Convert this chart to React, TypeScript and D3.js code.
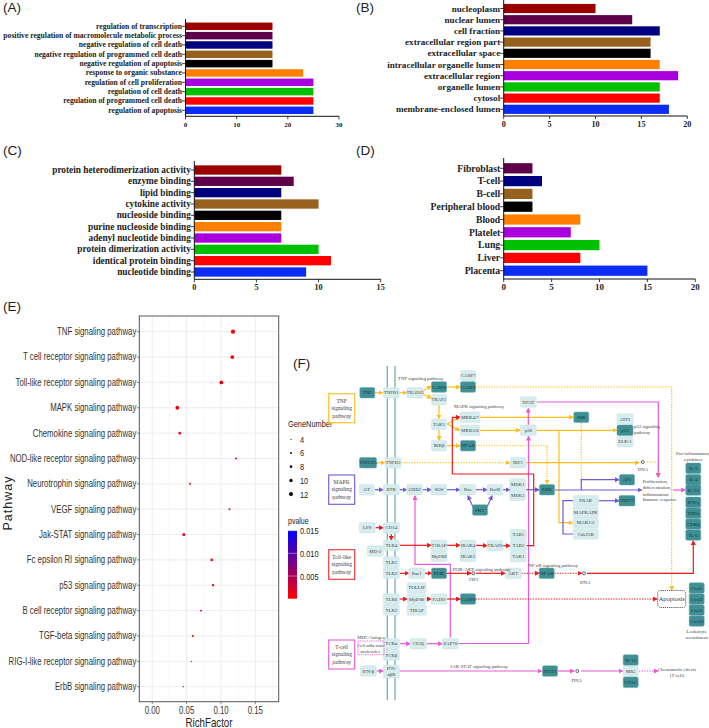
import React from "react";
import * as d3 from "d3";

// ---------- panel A-D data (top row first) ----------
const catA = ["regulation of transcription","positive regulation of macromolecule metabolic process","negative regulation of cell death","negative regulation of programmed cell death","negative regulation of apoptosis","response to organic substance","regulation of cell proliferation","regulation of cell death","regulation of programmed cell death","regulation of apoptosis"];
const valA = [17,17,17,17,17,23,25,25,25,25];
const catB = ["nucleoplasm","nuclear lumen","cell fraction","extracellular region part","extracellular space","intracellular organelle lumen","extracellular region","organelle lumen","cytosol","membrane-enclosed lumen"];
const valB = [10,14,17,16,16,17,19,17,17,18];
const catC = ["protein heterodimerization activity","enzyme binding","lipid binding","cytokine activity","nucleoside binding","purine nucleoside binding","adenyl nucleotide binding","protein dimerization activity","identical protein binding","nucleotide binding"];
const valC = [7,8,7,10,7,7,7,10,11,9];
const catD = ["Fibroblast","T-cell","B-cell","Peripheral blood","Blood","Platelet","Lung","Liver","Placenta"];
const valD = [3,4,3,3,8,7,10,8,15];
// colours counted from the bottom bar upward
const barColors = ["#0a2cf5","#ff0000","#00c000","#aa00dd","#ff8000","#000000","#96601e","#00007f","#5e0049","#9a0000"];

// ---------- panel E data ----------
const pathways = ["TNF signaling pathway","T cell receptor signaling pathway","Toll-like receptor signaling pathway","MAPK signaling pathway","Chemokine signaling pathway","NOD-like receptor signaling pathway","Neurotrophin signaling pathway","VEGF signaling pathway","Jak-STAT signaling pathway","Fc epsilon RI signaling pathway","p53 signaling pathway","B cell receptor signaling pathway","TGF-beta signaling pathway","RIG-I-like receptor signaling pathway","ErbB signaling pathway"];
const richFactor = [0.1175,0.1165,0.1005,0.0365,0.04,0.122,0.055,0.1125,0.046,0.0865,0.0885,0.071,0.059,0.057,0.045];
const geneNumber = [12,11,11,11,8,6,6,6,9,8,7,6,6,4,4];
const pValue = [0.0004,0.0004,0.0006,0.0008,0.001,0.001,0.001,0.001,0.001,0.001,0.001,0.001,0.001,0.009,0.014];
const geneLegend = [4,6,8,10,12];
const pLegend = [0.015,0.01,0.005];
const richTicks = [0,0.05,0.1,0.15];
const richMinor = [0.025,0.075,0.125,0.175];

// ---------- panel F diagram ----------
const YEL = "#ffbe1a", PUR = "#6a5cd6", RED = "#f01818", MAG = "#e85ad8", TEAL = "#6fb2b0";
// [label, centre x, centre y, width, dark?]
type N = [string, number, number, number, boolean?];
const nodes: N[] = [
  ["TNF",367.3,392.7,15,true],["TNFR1",391.3,392.7,16],["TRADD",415,392.7,16],["CASP8",439,387,15,true],["CASP7",468,375.7,15],["CASP3",468,387,15,true],["TRAF2",439,399.7,15],["TAK1",439,424.3,15],["IKKβ",439,445.7,15],["NF-κB",468,445.7,15,true],["MKK4/7",470,417.3,20],["MKK3/6",470,430.3,20],
  ["TNFLTA",368,462.7,17,true],["TNFR2",393,462.7,16],["GF",367,489.7,15],["RTK",391.3,489.7,16],["GRB2",414.7,489.7,16],["SOS",439,489.7,16],["Ras",467.7,489.7,16],["RafB",495,489.7,16],["PKC",480,510,15,true],["MEK1",517.7,484,16],["MEK2",517.7,495.3,16],["ERK",547,489.7,15,true],["AP1",627,479.7,15,true],
  ["NFAT",528.3,402,16],["JNK",581.3,417.3,15,true],["p38",528.3,430.3,16],["ATF2",625,419,16],["p53",625,430.3,16,true],["ELK-1",625,441.7,16],["IRF1",518,462.7,16],["PRAK",585.7,500.7,25],["MAPKAPK",585.7,512,25],["MAK1/2",585.7,522.7,25],["Cdc25B",585.7,534,25],["HSP27",627,500.7,16,true],
  ["IL-2",693.3,468.3,15,true],["IL-4",693.3,479.7,15,true],["IL-10",693.3,490,15,true],["IFN-γ",693.3,502.3,15,true],["TNFα",693.3,513,15,true],["CDK4",693.3,524,15,true],["IL-6",693.3,535,15,true],
  ["LPS",367.3,527.7,16],["CD14",391.3,527.7,16],["MD-2",375.3,551,16],["TLR4",391.3,545.3,16],["TLR1",391.3,562,16],["TLR2",391.3,573.3,16],["Rac1",416.7,573.3,16],["PI3K",439,573.3,15,true],["T1RAP",439,545.3,16],["MyD88",439,556.3,16],["IRAK4",468,545.3,16],["IRAK1",468,556.3,16],["TRAF6",495,545.7,16],["TAB1",518.3,534.7,16],["TAB2",518.3,545.7,16],["TAK1",518.3,556.7,16],
  ["TOLLIP",416.7,587.7,19],["MyD88",416.7,599,19],["TIRAP",416.7,610,19],["TLR6",391.3,599,16],["TLR2",391.3,610,16],["FADD",439,599,16],["CASP8",468,599,15,true],["AKT",513.3,573.3,16],["NF-κB",546.7,573.3,15,true],
  ["TCRα",391.3,643.7,16],["TCRβ",391.3,655,16],["CD3ζ",418.3,643.7,16],["ZAP70",450.3,643.7,16],["IFN-β",368.3,671,16],["STAT1",550,671,15,true],["IP-10",630.7,660,15,true],["MIG",630.7,671.3,15],["I-TAC",630.7,682.3,15,true],["Cxcl5",696.7,588,15,true],["Cxcl2",696.7,599,15,true],["Cxcl3",696.7,610,15,true],["Cxcl10",696.7,621,15,true],
];
// [colour, dotted?, arrow?, waypoints]
type E = [string, boolean, boolean, number[][]];
const edges: E[] = [
  [YEL,false,true,[[375,392.7],[382.5,392.7]]],[YEL,false,true,[[399.5,392.7],[406.5,392.7]]],[YEL,false,true,[[423,391],[431,386]]],[YEL,false,true,[[423,394],[431,398]]],[YEL,false,true,[[446.5,387],[460,387]]],[YEL,false,true,[[439,405],[439,418.5]]],[YEL,false,true,[[439,430],[439,440]]],[YEL,false,true,[[447,424],[459.5,417.3]]],[YEL,false,true,[[447,424],[459.5,430.3]]],[YEL,false,true,[[446.5,445.7],[460,445.7]]],[YEL,false,true,[[376.5,462.7],[384.5,462.7]]],
  [YEL,false,true,[[480,417.3],[573,417.3]]],[YEL,false,true,[[480,430.3],[520,430.3]]],[YEL,false,true,[[536,430.3],[616.5,430.3]]],[YEL,false,true,[[559,430.3],[559,522.7],[572.5,522.7]]],[YEL,false,true,[[526,462.7],[639,462.7]]],
  [YEL,true,true,[[475.5,387],[671.7,387],[671.7,590]]],[YEL,true,true,[[401,462.7],[509.5,462.7]]],[YEL,true,true,[[475.5,445.7],[547,445.7],[547,483.5]]],[YEL,true,false,[[581.3,423],[581.3,480]]],[YEL,true,true,[[646.5,462],[658,462],[658,477]]],
  [MAG,false,true,[[528.3,425],[528.3,408.5]]],[MAG,false,true,[[458,643.5],[528.5,643.5],[528.5,436.5]]],[MAG,false,true,[[536.5,402],[658.3,402],[658.3,477]]],[MAG,false,true,[[450.3,637.5],[450.3,564.3],[415,564.3],[415,496]]],[MAG,false,true,[[400,643.7],[410,643.7]]],[MAG,false,true,[[426.5,643.7],[442,643.7]]],[MAG,false,true,[[376.5,671],[383,671]]],[MAG,false,true,[[399.5,671],[541.5,671]]],[MAG,false,true,[[558,671],[574,671]]],[MAG,false,true,[[581,671],[622.5,671]]],[MAG,true,true,[[639,671],[658,671]]],[MAG,false,true,[[673,490],[685,490]]],
  [PUR,false,true,[[375,489.7],[383,489.7]]],[PUR,false,true,[[399.5,489.7],[406.5,489.7]]],[PUR,false,true,[[423,489.7],[431,489.7]]],[PUR,false,true,[[447,489.7],[459.5,489.7]]],[PUR,false,true,[[476,489.7],[487,489.7]]],[PUR,false,true,[[503,489.7],[509.5,489.7]]],[PUR,false,true,[[526,489.7],[539,489.7]]],[PUR,false,true,[[473,507],[468,496]]],[PUR,false,true,[[487,507],[492,496]]],[PUR,false,true,[[555,490],[641.5,490]]],[PUR,false,true,[[581.3,490],[581.3,479.7],[619,479.7]]],[PUR,false,true,[[598.5,500.7],[619,500.7]]],[PUR,false,false,[[573,500.7],[563,500.7],[563,534],[573,534]]],
  [RED,false,true,[[375.5,527.7],[383,527.7]]],[RED,false,true,[[391.3,534],[391.3,540]]],[RED,false,true,[[399.5,545.3],[431,545.3]]],[RED,false,true,[[447,545.3],[460,545.3]]],[RED,false,true,[[476,545.3],[487,545.7]]],[RED,false,true,[[503,545.7],[510,545.7]]],[RED,false,true,[[526.5,545.7],[533.7,545.7],[533.7,474],[452.3,474],[452.3,417.3],[460,417.3]]],[RED,false,true,[[399.5,573.3],[408.5,573.3]]],[RED,false,true,[[425,573.3],[431.5,573.3]]],[RED,false,true,[[446.5,573.3],[471,573.3]]],[RED,false,true,[[476,573.3],[505,573.3]]],[RED,true,true,[[521.5,573.3],[539,573.3]]],[RED,true,true,[[554.5,573.3],[581.5,573.3]]],[RED,false,true,[[587,573.3],[693.3,573.3],[693.3,541]]],[RED,false,true,[[399.5,599],[407,599]]],[RED,false,true,[[426.5,599],[431,599]]],[RED,false,true,[[447,599],[460,599]]],[RED,true,true,[[475.5,599],[657,599]]],
];
const membraneX = [387.3,395];
const dnaMarks = [[642.7,462],[473.3,573.3],[584,573.3],[577.3,671]];
// [text, x, y, anchor]
const notes: [string, number, number, string][] = [
  ["TNF signaling pathway",420.7,380,"middle"],["MAPK signaling pathway",454,408,"start"],["p53 signaling",634,428,"start"],["pathway",634,434,"start"],["DNA",643,471,"middle"],["Pro-inflammatory",693.3,455,"middle"],["cytokines",693.3,461,"middle"],["Proliferation,",642.7,482.5,"start"],["differentiation,",642.7,489,"start"],["inflammation",642.7,495.5,"start"],["Immune response",642.7,501,"start"],["NF-κB signaling pathway",553,566.5,"middle"],["DNA",585.3,584,"middle"],["PI3K-AKT signaling pathway",452.7,570.5,"start"],["PIP3",473.7,580.5,"middle"],["MHC/Antigen",371,639,"middle"],["Cell adhesion",370.3,647,"middle"],["molecules",370.3,653,"middle"],["JAK-STAT signaling pathway",450.3,668,"start"],["DNA",576.7,681.5,"middle"],["Chemotactic effects",677,670.5,"middle"],["(T cell)",677,676.8,"middle"],["Leukocyte",696.7,632.8,"middle"],["recruitment",696.7,638.8,"middle"],
];
// [lines, colour, top y]
const keyBoxes: [string[], string, number, number][] = [
  [["TNF","signaling","pathway"],"#ffbe1a",393.7,422.7],[["MAPK","signaling","pathway"],PUR,475,504.3],[["Toll-like","signaling","pathway"],"#f03030",549.7,579.3],[["T-cell","signaling","pathway"],MAG,640,669],
];
const panelLetters: [string, number, number][] = [["(A)",3,12],["(B)",356,12],["(C)",3,155],["(D)",356,155],["(E)",3,311],["(F)",293,368]];

const SERIF = "'Liberation Serif', serif";
const SANS = "'Liberation Sans', Arial, sans-serif";

function BarPanel({cats, vals, max, step, x0, x1, axisY, top, first, last, fs, tickFs, ratio}: any) {
  const x = d3.scaleLinear().domain([0, max]).range([x0, x1]);
  const s = (last - first) / (cats.length - 1);
  const y = d3.scaleBand<string>().domain(cats).range([first - s / 2, last + s / 2]).paddingInner(ratio).paddingOuter(ratio / 2);
  const ticks = d3.range(0, max + 0.001, step);
  return (
    <g>
      {cats.map((c: string, i: number) => (
        <g key={c}>
          <rect x={x(0)} y={y(c)} width={x(vals[i]) - x(0)} height={y.bandwidth()} fill={barColors[cats.length - 1 - i]} />
          <line x1={x0 - 3.5} x2={x0} y1={y(c)! + y.bandwidth() / 2} y2={y(c)! + y.bandwidth() / 2} stroke="#111" strokeWidth={0.8} />
          <text x={x0 - 3.5} y={y(c)! + y.bandwidth() / 2} dy="0.33em" textAnchor="end" fontFamily={SERIF} fontWeight="bold" fontSize={fs} fill="#222">{c}</text>
        </g>
      ))}
      <line x1={x0} x2={x0} y1={top} y2={axisY} stroke="#111" strokeWidth={1} />
      <line x1={x0} x2={x1} y1={axisY} y2={axisY} stroke="#111" strokeWidth={1} />
      {ticks.map((t: number) => (
        <g key={t}>
          <line x1={x(t)} x2={x(t)} y1={axisY} y2={axisY + 3} stroke="#111" strokeWidth={0.8} />
          <text x={x(t)} y={axisY + 8} dy="0.35em" textAnchor="middle" fontFamily={SERIF} fontWeight="bold" fontSize={tickFs} fill="#222">{t}</text>
        </g>
      ))}
    </g>
  );
}

function Condensed({x, y, k = 0.78, anchor = "end", size, children, fill = "#333"}: any) {
  return (
    <text transform={`translate(${x},${y}) scale(${k},1)`} textAnchor={anchor} fontFamily={SANS} fontSize={size} fill={fill}>{children}</text>
  );
}

function BubblePanel() {
  const L = 139.3, R = 278.7, T = 316, B = 701.7;
  const x = d3.scaleLinear().domain([0, 0.15]).range([152.3, 255.3]);
  const y = d3.scalePoint<string>().domain(pathways).range([331.7, 686.7]);
  const r = d3.scaleLinear().domain([4, 12]).range([0.6, 2.1]);
  const c = d3.scaleLinear<string>().domain([0, 0.015]).range(["#ff0000", "#0000ff"]);
  const barY = d3.scaleLinear().domain([0, 0.015]).range([598.7, 530.7]);
  return (
    <g>
      <defs>
        <linearGradient id="pv" x1="0" x2="0" y1="1" y2="0">
          {[0, 0.25, 0.5, 0.75, 1].map((o) => <stop key={o} offset={o} stopColor={c(o * 0.015)} />)}
        </linearGradient>
      </defs>
      {richMinor.map((t) => <line key={t} x1={x(t)} x2={x(t)} y1={T} y2={B} stroke="#f3f3f3" strokeWidth={0.6} />)}
      {richTicks.map((t) => <line key={t} x1={x(t)} x2={x(t)} y1={T} y2={B} stroke="#e9e9e9" strokeWidth={0.8} />)}
      {pathways.map((p) => <line key={p} x1={L} x2={R} y1={y(p)} y2={y(p)} stroke="#e9e9e9" strokeWidth={0.8} />)}
      {pathways.map((p, i) => <circle key={p} cx={x(richFactor[i])} cy={y(p)} r={r(geneNumber[i])} fill={c(pValue[i])} />)}
      <rect x={L} y={T} width={R - L} height={B - T} fill="none" stroke="#555" strokeWidth={1} />
      {pathways.map((p) => (
        <g key={p}>
          <line x1={L - 2.5} x2={L} y1={y(p)} y2={y(p)} stroke="#555" strokeWidth={0.7} />
          <Condensed x={L - 3} y={y(p)! + 3.4} size={10}>{p}</Condensed>
        </g>
      ))}
      {richTicks.map((t) => (
        <g key={t}>
          <line x1={x(t)} x2={x(t)} y1={B} y2={B + 2.5} stroke="#555" strokeWidth={0.7} />
          <Condensed x={x(t)} y={B + 12} size={10} anchor="middle">{d3.format(".2f")(t)}</Condensed>
        </g>
      ))}
      <Condensed x={209} y={726.5} size={12.5} anchor="middle" fill="#222">RichFactor</Condensed>
      <text transform="translate(11.5,503) rotate(-90)" textAnchor="middle" fontFamily={SANS} fontSize={12.5} letterSpacing="1" fill="#222">Pathway</text>

      <Condensed x={288} y={427} size={9.5} anchor="start" fill="#222">GeneNumber</Condensed>
      {geneLegend.map((g, i) => (
        <g key={g}>
          <circle cx={291} cy={439.3 + i * 13.7} r={r(g)} fill="#111" />
          <Condensed x={300} y={442.7 + i * 13.7} size={9.5} anchor="start" fill="#222">{g}</Condensed>
        </g>
      ))}
      <Condensed x={288} y={524} size={9} anchor="start" fill="#222">pvalue</Condensed>
      <rect x={288} y={530.7} width={9} height={68} fill="url(#pv)" />
      {pLegend.map((p) => (
        <g key={p}>
          <line x1={288} x2={297} y1={barY(p)} y2={barY(p)} stroke="#fff" strokeWidth={0.4} />
          <Condensed x={300} y={barY(p) + 3.6} size={9.5} anchor="start" fill="#222">{d3.format(".3f")(p)}</Condensed>
        </g>
      ))}
    </g>
  );
}

function PathwayPanel() {
  const line = d3.line();
  const colors = [YEL, PUR, RED, MAG];
  const mk = (c: string) => "ah" + c.slice(1);
  const h = 10.5;
  return (
    <g>
      <defs>
        {colors.map((c) => (
          <marker key={c} id={mk(c)} viewBox="0 0 10 10" refX="8" refY="5" markerUnits="userSpaceOnUse" markerWidth="5" markerHeight="5" orient="auto">
            <path d="M0,0L10,5L0,10z" fill={c} />
          </marker>
        ))}
      </defs>
      {membraneX.map((m) => <line key={m} x1={m} x2={m} y1={366} y2={700} stroke={TEAL} strokeWidth={1.3} />)}
      {edges.map(([c, dotted, arrow, pts], i) => (
        <path key={i} d={line(pts as [number, number][])!} fill="none" stroke={c} strokeWidth={dotted ? 1.1 : 1.2} strokeDasharray={dotted ? "1.4 1.2" : undefined} markerEnd={arrow ? `url(#${mk(c)})` : undefined} />
      ))}
      {dnaMarks.map(([x, y], i) => <circle key={i} cx={x} cy={y} r={1.5} fill="#fff" stroke="#222" strokeWidth={0.7} />)}
      {nodes.map(([t, x, y, w, dark], i) => (
        <g key={i}>
          <rect x={x - w / 2} y={y - h / 2} width={w} height={h} rx={1.5} fill={dark ? "#3f8f94" : "#d6ecee"} stroke={dark ? "#5ea7aa" : "#c8e3e5"} strokeWidth={0.5} />
          <text x={x} y={y} dy="0.34em" textAnchor="middle" fontFamily={SERIF} fontSize={4.9} fill={dark ? "#12343a" : "#444"}>{t}</text>
        </g>
      ))}
      <rect x={383.3} y={665} width={16} height={13} rx={1.5} fill="#d6ecee" stroke="#c8e3e5" strokeWidth={0.5} />
      <text x={391.3} y={670} textAnchor="middle" fontFamily={SERIF} fontSize={4.9} fill="#444">IFN-</text>
      <text x={391.3} y={675.5} textAnchor="middle" fontFamily={SERIF} fontSize={4.9} fill="#444">αβR</text>
      <rect x={358} y={641} width={26} height={13.7} fill="none" stroke={MAG} strokeWidth={0.9} strokeDasharray="1.2 1" />
      <rect x={657.7} y={590.5} width={28} height={17} rx={3} fill="#fff" stroke="#333" strokeWidth={0.8} strokeDasharray="1.2 0.9" />
      <text x={671.7} y={599} dy="0.34em" textAnchor="middle" fontFamily={SERIF} fontSize={6.4} fill="#333">Apoptosis</text>
      {notes.map(([t, x, y, a], i) => (
        <text key={i} x={x} y={y} textAnchor={a as any} fontFamily={SERIF} fontSize={4.8} fill="#444">{t}</text>
      ))}
      {keyBoxes.map(([lines, c, y0, y1]) => (
        <g key={lines[0]}>
          <rect x={328.7} y={y0} width={26} height={y1 - y0} fill="#fff" stroke={c} strokeWidth={1.1} />
          {lines.map((l, i) => (
            <text key={i} x={341.7} y={(y0 + y1) / 2 + (i - 1) * 7.5 + 1.8} textAnchor="middle" fontFamily={SERIF} fontSize={5.6} fill="#444">{l}</text>
          ))}
        </g>
      ))}
    </g>
  );
}

export default function App() {
  return (
    <svg width={709} height={728} viewBox="0 0 709 728" style={{position: "absolute", left: 0, top: 0, background: "#fff"}}>
      {panelLetters.map(([t, x, y]) => (
        <text key={t} x={x} y={y} fontFamily={SANS} fontSize={13.5} fill="#222">{t}</text>
      ))}
      <BarPanel cats={catA} vals={valA} max={30} step={10} x0={185.5} x1={339} axisY={116.3} top={19} first={26.3} last={110.3} fs={7.6} tickFs={7} ratio={0.2} />
      <BarPanel cats={catB} vals={valB} max={20} step={5} x0={503.7} x1={687.3} axisY={116} top={0} first={8.5} last={109.3} fs={9.1} tickFs={8.2} ratio={0.18} />
      <BarPanel cats={catC} vals={valC} max={15} step={5} x0={194.3} x1={380.7} axisY={279.3} top={161} first={170} last={272} fs={9.3} tickFs={8.2} ratio={0.18} />
      <BarPanel cats={catD} vals={valD} max={20} step={5} x0={503.7} x1={695.3} axisY={279} top={158} first={168.3} last={270.7} fs={9.7} tickFs={9} ratio={0.2} />
      <BubblePanel />
      <PathwayPanel />
    </svg>
  );
}
